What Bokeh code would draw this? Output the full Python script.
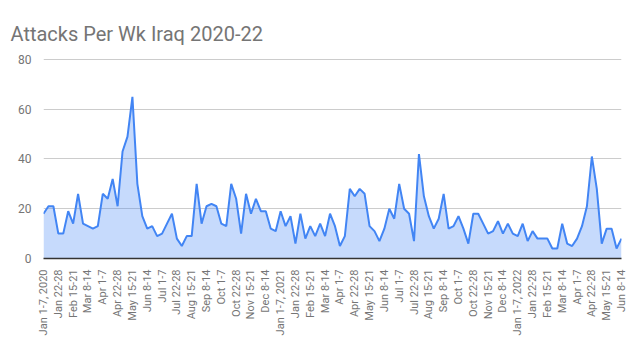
from math import pi
from bokeh.plotting import figure
from bokeh.models import Range1d, FixedTicker
from bokeh.embed import file_html
from bokeh.resources import INLINE

title_text = "Attacks Per Wk Iraq 2020-22"
months = ["Jan", "Feb", "Mar", "Apr", "May", "Jun",
          "Jul", "Aug", "Sep", "Oct", "Nov", "Dec"]
periods = ["1-7", "8-14", "15-21", "22-28"]
years = [2020, 2021, 2022]

attacks = [
    18, 21, 21, 10, 10, 19, 14, 26, 14, 13, 12, 13, 26, 24, 32, 21, 43, 49, 65, 30,
    17, 12, 13, 9, 10, 14, 18, 8, 5, 9, 9, 30, 14, 21, 22, 21, 14, 13, 30, 24,
    10, 26, 18, 24, 19, 19, 12, 11,
    19, 13, 17, 6, 18, 8, 13, 9, 14, 9, 18, 13, 5, 9, 28, 25, 28, 26, 13, 11,
    7, 12, 20, 16, 30, 20, 18, 7, 42, 25, 17, 12, 16, 26, 12, 13, 17, 12, 6, 18,
    18, 14, 10, 11, 15, 10, 14, 10,
    9, 14, 7, 11, 8, 8, 8, 4, 4, 14, 6, 5, 8, 13, 21, 41, 28, 6, 12, 12, 4, 8,
]

weeks = []
for yr in years:
    for m in months:
        for k, pr in enumerate(periods):
            if m == "Jan" and k == 0:
                weeks.append(f"{m} {pr}, {yr}")
            else:
                weeks.append(f"{m} {pr}")
weeks = weeks[:len(attacks)]
xs = list(range(len(attacks)))
tick_idx = list(range(0, len(weeks), 3))
y_ticks = [0, 20, 40, 60, 80]

p = figure(width=639, height=352, output_backend="svg", toolbar_location=None,
           x_range=Range1d(0, len(attacks) - 1), y_range=Range1d(0, 80.4),
           min_border_left=43, min_border_right=18, min_border_top=58,
           min_border_bottom=94)
p.outline_line_color = None
p.background_fill_color = "white"
p.border_fill_color = "white"

p.title.text = title_text
p.title.text_font = "Roboto"
p.title.text_font_size = "20px"
p.title.text_font_style = "normal"
p.title.text_color = "#757575"
p.title.align = "left"
p.title.offset = -33
p.title.standoff = 26

p.varea(x=xs, y1=[0] * len(attacks), y2=attacks, fill_color="#4285f4", fill_alpha=0.3)
p.line(x=xs, y=attacks, line_color="#4285f4", line_width=2)

p.xgrid.grid_line_color = None
p.ygrid.grid_line_color = "#cccccc"
p.ygrid.ticker = FixedTicker(ticks=y_ticks)

p.yaxis.ticker = FixedTicker(ticks=y_ticks)
p.yaxis.axis_line_color = None
p.yaxis.major_tick_line_color = None
p.yaxis.minor_tick_line_color = None
p.yaxis.major_label_text_font = "Roboto"
p.yaxis.major_label_text_font_size = "12px"
p.yaxis.major_label_text_color = "#757575"
p.yaxis.major_label_standoff = 6

p.xaxis.ticker = FixedTicker(ticks=tick_idx)
p.xaxis.major_label_overrides = {i: weeks[i] for i in tick_idx}
p.xaxis.major_label_orientation = pi / 2
p.xaxis.axis_line_color = "#333333"
p.xaxis.axis_line_width = 1.5
p.xaxis.major_tick_line_color = None
p.xaxis.minor_tick_line_color = None
p.xaxis.major_label_text_font = "Roboto"
p.xaxis.major_label_text_font_size = "11px"
p.xaxis.major_label_text_color = "#757575"
p.xaxis.major_label_standoff = 5

open("out.html", "w").write(file_html(p, INLINE))
